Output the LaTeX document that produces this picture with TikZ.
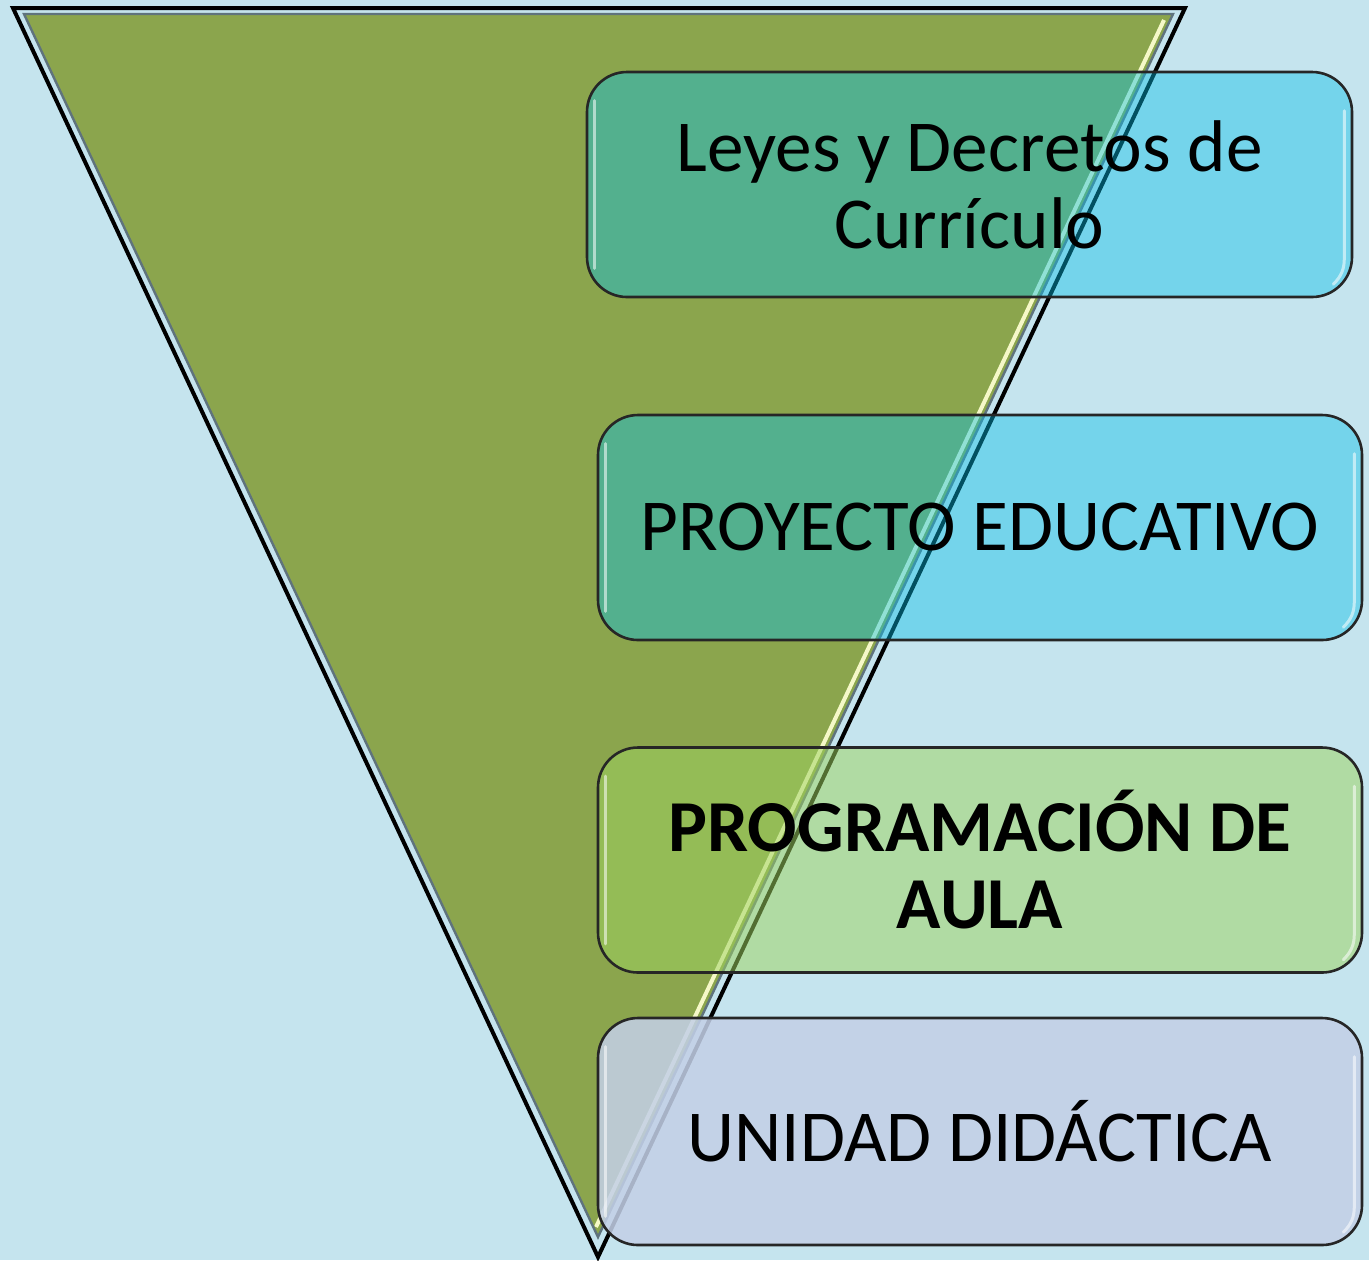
\documentclass[tikz,border=0pt]{standalone}
\usetikzlibrary{calc}
\usepackage{fontspec}
\setmainfont{Carlito}
\definecolor{bgc}{RGB}{197,228,238}
\definecolor{trig}{RGB}{139,165,77}
\definecolor{trigedge}{RGB}{95,115,125}
\definecolor{hil}{RGB}{245,248,200}
\definecolor{cyanc}{RGB}{6,192,233}
\definecolor{greenc}{RGB}{158,211,96}
\definecolor{lavc}{RGB}{195,208,231}
\tikzset{
  box/.style={rounded corners=20pt, draw=black!85, line width=1.3pt, draw opacity=1,
     text opacity=1, align=center, inner sep=0pt,
     minimum width=382pt, minimum height=112.5pt,
     font=\fontsize{36.6}{38.5}\selectfont},
  boxa/.style={box, fill=cyanc, fill opacity=0.42},
  boxb/.style={box, fill=greenc, fill opacity=0.52},
  boxc/.style={box, fill=lavc, fill opacity=0.86},
  gloss/.style={white, opacity=0.55, line width=1.5pt, line cap=round},
}
\newcommand{\glossbox}[1]{%
  \draw[gloss] ($(#1.north west)+(9,30)$) -- ($(#1.south west)+(9,-30)$);
  \draw[gloss] ($(#1.north east)+(-9,40)$) -- ($(#1.south east)+(-9,-40)$)
     to[out=-90,in=45] ($(#1.south east)+(-20,-14)$);
}
\begin{document}
\begin{tikzpicture}[x=0.5pt,y=-0.5pt]
\useasboundingbox (0,0) rectangle (1369,1260);
\fill[bgc] (0,0) rectangle (1369,1260);
% triangle
\coordinate (otl) at (13,8);
\coordinate (otr) at (1185,8);
\coordinate (ob) at (598,1257);
\coordinate (itl) at (24,14);
\coordinate (itr) at (1173,14);
\coordinate (ib) at (598,1237);
\draw[black, line width=2pt, line join=miter] (otl) -- (otr) -- (ob) -- cycle;
\fill[trig] (itl) -- (itr) -- (ib) -- cycle;
\draw[hil, line width=2pt] ($(itr)+(-9,6)$) -- ($(ib)+(-2,-10)$);
\draw[trigedge, line width=1.2pt, line join=miter] (itl) -- (itr) -- (ib) -- cycle;
% boxes
\node[boxa, minimum width=382.5pt] (b1) at (969.5,184.5) {\raisebox{-1.5pt}{\parbox{380pt}{\centering Leyes y Decretos de\\Currículo}}};
\node[boxa] (b2) at (980,527.5) {\raisebox{-1.5pt}{PROYECTO EDUCATIVO}};
\node[boxb, font=\fontsize{36.6}{38.5}\selectfont\bfseries] (b3) at (980,860) {PROGRAMACIÓN DE\\AULA};
\node[boxc, minimum height=113.5pt] (b4) at (980,1131.5) {UNIDAD DIDÁCTICA};
\glossbox{b1}
\glossbox{b2}
\glossbox{b3}
\glossbox{b4}
\end{tikzpicture}
\end{document}
